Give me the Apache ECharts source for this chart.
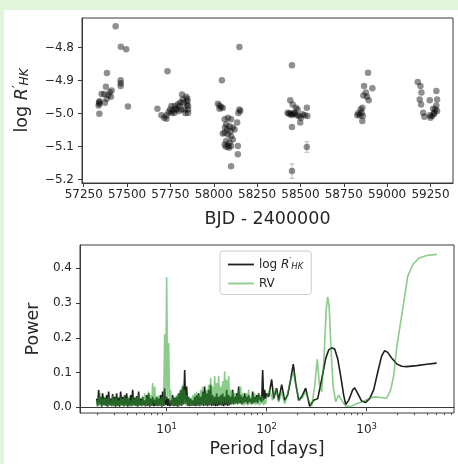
<!DOCTYPE html>
<html><head><meta charset="utf-8">
<script src="https://cdn.jsdelivr.net/npm/echarts@6/dist/echarts.min.js"></script>
<style>
html,body{margin:0;padding:0;background:#e2f5dc;width:458px;height:464px;overflow:hidden}
#c{position:absolute;left:4px;top:10px;width:454px;height:454px;background:#fff}
</style></head><body><div id="c"></div>
<script>
// ---- top panel: activity index time series ----
const bjd = [
57336,57338,57340,57342,57340,57353,57368,57372,57378,57384,57382,57391,57407,57411,57400,57434,57464,57495,57463,57463,57463,57505,
57675,57698,57714,57727,57727,57733,57740,57748,57756,57756,57764,57773,57775,57779,57785,57794,57799,57803,57813,57817,57822,57828,57832,57836,57841,57848,57848,57852,57852,57852,57845,57808,
58024,58033,58043,58052,58033,58047,58063,58082,58100,58072,58091,58110,58063,58082,58100,58052,58072,58091,58063,58082,58100,58110,58120,58096,58077,58065,58100,58139,58139,58135,58148,58153,58142,58148,58088,58070,
58451,58441,58455,58426,58441,58455,58464,58474,58479,58493,58502,58499,58512,58484,58537,58540,58525,58451,58451,58537,58432,58447,58468,
58890,58915,58867,58877,58884,58894,58863,58857,58847,58834,58843,58860,58853,58857,58828,
59177,59192,59198,59188,59196,59208,59215,59246,59284,59288,59284,59278,59269,59259,59272,59288,59250,59246,59265
];
const logRhk = [
-4.975,-4.965,-4.970,-4.962,-5.000,-4.940,-4.940,-4.967,-4.918,-4.877,-4.955,-4.944,-4.949,-4.930,-4.935,-4.735,-4.797,-4.805,-4.899,-4.908,-4.916,-4.978,
-4.985,-5.005,-5.012,-5.015,-5.005,-4.871,-4.995,-4.987,-4.977,-4.998,-4.992,-4.998,-4.977,-4.985,-4.987,-4.971,-4.992,-4.977,-4.987,-4.942,-4.957,-4.967,-4.987,-4.998,-4.949,-4.955,-4.962,-4.977,-4.987,-4.998,-4.972,-4.965,
-4.970,-4.975,-4.980,-4.983,-4.985,-4.899,-5.017,-5.012,-5.017,-5.032,-5.038,-5.042,-5.058,-5.063,-5.068,-5.060,-5.083,-5.088,-5.093,-5.098,-5.098,-5.078,-5.048,-5.053,-5.048,-5.042,-5.159,-5.123,-5.098,-5.027,-4.987,-4.992,-4.998,-4.798,-5.103,-5.100,
-4.853,-4.959,-4.972,-4.997,-4.999,-5.002,-4.997,-4.982,-5.005,-5.007,-5.012,-5.027,-5.002,-4.987,-4.982,-5.007,-5.005,-5.040,-5.174,-5.101,-5.000,-5.004,-5.000,
-4.876,-4.923,-4.916,-4.936,-4.949,-4.959,-4.945,-4.982,-4.987,-4.999,-5.005,-5.007,-4.997,-5.022,-5.005,
-4.904,-4.916,-4.936,-4.957,-4.972,-4.997,-5.009,-4.959,-4.931,-4.957,-4.975,-4.987,-5.002,-5.007,-4.997,-4.992,-5.012,-5.005,-4.985
];
// visible error bars
const errBjd = [58451, 58537];
const errVal = [-5.174, -5.101];
const errSize = [0.022, 0.016];
const bjdTicks = [57250,57500,57750,58000,58250,58500,58750,59000,59250];
const rhkTicks = [-5.2,-5.1,-5.0,-4.9,-4.8];

// ---- bottom panel: periodograms ----
const noisePeriods = [1.995,2.042,2.089,2.138,2.188,2.239,2.291,2.344,2.399,2.455,2.512,2.570,2.630,2.692,2.754,2.818,2.884,2.951,3.020,3.090,3.162,3.236,3.311,3.388,3.467,3.548,3.631,3.715,3.802,3.890,3.981,4.074,4.169,4.266,4.365,4.467,4.571,4.677,4.786,4.898,5.012,5.129,5.248,5.370,5.495,5.623,5.754,5.888,6.026,6.166,6.310,6.457,6.607,6.761,6.918,7.079,7.244,7.413,7.586,7.762,7.943,8.128,8.318,8.511,8.710,8.913,9.120,9.333,9.550,9.772,10.00,10.23,10.47,10.72,10.96,11.22,11.48,11.75,12.02,12.30,12.59,12.88,13.18,13.49,13.80,14.13,14.45,14.79,15.14,15.49,15.85,16.22,16.60,16.98,17.38,17.78,18.20,18.62,19.05,19.50,19.95,20.42,20.89,21.38,21.88,22.39,22.91,23.44,23.99,24.55,25.12,25.70,26.30,26.92,27.54,28.18,28.84,29.51,30.20,30.90,31.62,32.36,33.11,33.88,34.67,35.48,36.31,37.15,38.02,38.90,39.81,40.74,41.69,42.66,43.65,44.67,45.71,46.77,47.86,48.98,50.12,51.29,52.48,53.70,54.95,56.23,57.54,58.88,60.26,61.66,63.10,64.57,66.07,67.61,69.18,70.79,72.44,74.13,75.86,77.62,79.43,81.28,83.18,85.11,87.10,89.13,91.20,93.33,95.50,97.72,100.0];
const rhkNoisePower = [
0.025,0.003,0.05,0.008,0.03,0.002,0.04,0.006,0.028,0.004,
0.035,0.002,0.045,0.006,0.025,0.003,0.038,0.005,0.03,0.002,
0.04,0.004,0.028,0.002,0.045,0.006,0.03,0.003,0.035,0.005,
0.04,0.002,0.025,0.005,0.035,0.003,0.05,0.006,0.028,0.004,
0.032,0.002,0.045,0.005,0.025,0.003,0.03,0.006,0.02,0.003,
0.035,0.004,0.04,0.002,0.025,0.005,0.03,0.003,0.022,0.004,
0.03,0.003,0.025,0.005,0.035,0.002,0.045,0.004,0.055,0.006,
0.03,0.004,0.025,0.003,0.02,0.005,0.035,0.003,0.028,0.004,
0.03,0.002,0.04,0.005,0.05,0.004,0.06,0.008,0.107,0.01,
0.06,0.004,0.03,0.003,0.025,0.005,0.02,0.004,0.03,0.003,
0.035,0.005,0.04,0.003,0.03,0.006,0.045,0.004,0.06,0.005,
0.04,0.003,0.05,0.006,0.065,0.004,0.035,0.005,0.03,0.003,
0.04,0.004,0.03,0.006,0.035,0.005,0.04,0.003,0.03,0.006,
0.05,0.004,0.035,0.006,0.03,0.01,0.05,0.008,0.03,0.012,
0.04,0.01,0.06,0.012,0.035,0.008,0.03,0.012,0.04,0.015,
0.03,0.01,0.035,0.015,0.025,0.01,0.045,0.012,0.03,0.015,
0.035,0.012,0.04,0.02,0.03,0.015,0.107,0.02,0.05,0.025,
0.04];
const rvNoisePower = [
0.02,0.003,0.03,0.005,0.04,0.002,0.025,0.006,0.03,0.004,
0.025,0.003,0.03,0.005,0.02,0.004,0.035,0.002,0.025,0.005,
0.03,0.003,0.02,0.005,0.03,0.004,0.025,0.002,0.035,0.005,
0.025,0.004,0.03,0.002,0.02,0.005,0.03,0.003,0.025,0.004,
0.03,0.003,0.035,0.005,0.02,0.004,0.03,0.006,0.04,0.003,
0.03,0.005,0.045,0.004,0.035,0.006,0.07,0.01,0.06,0.005,
0.03,0.004,0.035,0.005,0.025,0.003,0.03,0.006,0.21,0.02,
0.374,0.03,0.185,0.01,0.05,0.004,0.03,0.005,0.025,0.003,
0.035,0.005,0.04,0.006,0.05,0.004,0.065,0.01,0.05,0.006,
0.035,0.005,0.03,0.003,0.025,0.006,0.035,0.004,0.04,0.005,
0.045,0.006,0.035,0.004,0.05,0.005,0.06,0.008,0.04,0.006,
0.05,0.005,0.065,0.01,0.085,0.008,0.06,0.006,0.09,0.01,
0.07,0.008,0.09,0.01,0.06,0.006,0.075,0.01,0.104,0.012,
0.08,0.01,0.09,0.008,0.05,0.006,0.045,0.01,0.04,0.008,
0.035,0.006,0.05,0.01,0.06,0.008,0.04,0.005,0.03,0.008,
0.04,0.005,0.05,0.008,0.03,0.006,0.035,0.01,0.04,0.006,
0.03,0.008,0.04,0.005,0.035,0.01,0.03,0.006,0.02,0.01,
0.03];
const rhkTailPeriods = [104.7,112.2,117.5,125.9,131.8,141.3,151.4,162.2,173.8,184.5,195,209,224,245.5,269,295,324,355,389,417,447,479,513,550,589,617,661,724,759,813,891,977,1072,1175,1288,1413,1514,1622,1778,1995,2239,2512,3162,3981,5012];
const rhkTailPower = [0.03,0.08,0.025,0.055,0.02,0.065,0.02,0.035,0.08,0.124,0.07,0.02,0.03,0.055,0.003,0.02,0.025,0.08,0.14,0.165,0.171,0.168,0.14,0.09,0.035,0.008,0.02,0.05,0.056,0.04,0.018,0.014,0.025,0.05,0.1,0.148,0.163,0.158,0.142,0.125,0.118,0.117,0.12,0.124,0.127];
const rvTailPeriods = [107.2,114.8,123.0,131.8,141.3,151.4,162.2,173.8,186.2,199.5,213.8,229.1,245.5,263.0,281.8,302.0,320.6,338.8,354.8,375.8,393.6,407.4,421.7,441.6,462.4,489.8,524.8,562.3,616.6,691.8,794.3,912.0,1047,1202,1380,1585,1738,1862,1995,2138,2344,2570,2884,3311,3981,5012];
const rvTailPower = [0.05,0.02,0.055,0.015,0.045,0.01,0.04,0.08,0.1,0.05,0.02,0.03,0.045,0.02,0.003,0.06,0.138,0.06,0.045,0.15,0.28,0.318,0.29,0.16,0.06,0.016,0.035,0.02,0.004,0.002,0.01,0.016,0.025,0.03,0.028,0.026,0.05,0.09,0.17,0.227,0.3,0.376,0.41,0.429,0.437,0.44];
const powerTicks = [0,0.1,0.2,0.3,0.4];
const periodTicks = [10,100,1000];
const periodMinorTicks = [2,3,4,5,6,7,8,9,20,30,40,50,60,70,80,90,200,300,400,500,600,700,800,900,2000,3000,4000,5000,6000,7000];

const FONT = 'DejaVu Sans';
const INK = '#262626';
const SPINE = '#3a3a3a';
const fmtMinus = v => (v < -1e-9 ? '\u2212' : '') + Math.abs(v).toFixed(1);

const rhkSeries = noisePeriods.map((p,i)=>[p, rhkNoisePower[i]]).concat(rhkTailPeriods.map((p,i)=>[p, rhkTailPower[i]]));
const rvSeries = noisePeriods.map((p,i)=>[p, rvNoisePower[i]]).concat(rvTailPeriods.map((p,i)=>[p, rvTailPower[i]]));

const chart = echarts.init(document.getElementById('c'), null, {renderer:'canvas'});
const tickStyle = {show:true, inside:false, length:4, lineStyle:{color:SPINE, width:1}};
const lblStyle = {color:INK, fontFamily:FONT, fontSize:12};

chart.setOption({
  animation:false,
  textStyle:{fontFamily:FONT},
  grid:[
    {left:76, top:8, width:373, height:165, show:true, borderColor:SPINE, borderWidth:1, backgroundColor:'#fff'},
    {left:76, top:235, width:374, height:168, show:true, borderColor:SPINE, borderWidth:1, backgroundColor:'#fff'}
  ],
  xAxis:[
    {type:'value', gridIndex:0, min:57240, max:59380,
     name:'BJD - 2400000', nameLocation:'middle', nameGap:27,
     nameTextStyle:{color:INK, fontFamily:FONT, fontSize:17.5},
     axisLine:{show:true, lineStyle:{color:SPINE}}, splitLine:{show:false},
     axisTick:Object.assign({customValues:bjdTicks}, tickStyle),
     axisLabel:Object.assign({customValues:bjdTicks, margin:6, formatter:v=>String(v)}, lblStyle)},
    {type:'log', logBase:10, gridIndex:1, min:1.36, max:7470,
     name:'Period [days]', nameLocation:'middle', nameGap:27,
     nameTextStyle:{color:INK, fontFamily:FONT, fontSize:17.5},
     axisLine:{show:true, lineStyle:{color:SPINE}}, splitLine:{show:false}, minorTick:{show:false},
     axisTick:Object.assign({customValues:periodTicks}, tickStyle),
     axisLabel:Object.assign({customValues:periodTicks, margin:9,
        formatter:v=>'10{s|'+Math.round(Math.log10(v))+'}',
        rich:{s:{fontSize:8.5, color:INK, fontFamily:FONT, padding:[0,0,7,0]}}}, lblStyle)},
    {type:'log', logBase:10, gridIndex:1, min:1.36, max:7470, position:'bottom',
     axisLine:{show:false}, splitLine:{show:false}, axisLabel:{show:false},
     axisTick:{show:true, customValues:periodMinorTicks, length:2.2, lineStyle:{color:SPINE, width:0.8}}}
  ],
  yAxis:[
    {type:'value', gridIndex:0, min:-5.21, max:-4.71,
     name:'log {i|R}{p|\u2032}{b|HK}', nameLocation:'middle', nameGap:50, nameRotate:90,
     nameTextStyle:{color:INK, fontFamily:FONT, fontSize:17.5,
       rich:{i:{fontStyle:'italic', fontSize:17.5, color:INK, fontFamily:FONT},
             p:{fontSize:12, color:INK, fontFamily:FONT, padding:[0,0,8,0]},
             b:{fontStyle:'italic', fontSize:12, color:INK, fontFamily:FONT, padding:[6,0,0,0]}}},
     axisLine:{show:true, lineStyle:{color:SPINE}}, splitLine:{show:false},
     axisTick:Object.assign({customValues:rhkTicks}, tickStyle),
     axisLabel:Object.assign({customValues:rhkTicks, margin:8, formatter:fmtMinus}, lblStyle)},
    {type:'value', gridIndex:1, min:-0.0164, max:0.467,
     name:'Power', nameLocation:'middle', nameGap:34, nameRotate:90,
     nameTextStyle:{color:INK, fontFamily:FONT, fontSize:17.5},
     axisLine:{show:true, lineStyle:{color:SPINE}}, splitLine:{show:false},
     axisTick:Object.assign({customValues:powerTicks}, tickStyle),
     axisLabel:Object.assign({customValues:powerTicks, margin:8, formatter:fmtMinus}, lblStyle)}
  ],
  legend:{
    left:216, top:241, orient:'vertical', itemWidth:26, itemHeight:14, itemGap:6,
    padding:[6,8,5,7], borderColor:'#cccccc', borderWidth:1, borderRadius:3,
    backgroundColor:'rgba(255,255,255,0.85)',
    itemStyle:{opacity:0},
    lineStyle:{width:1.8},
    data:['logR','RV'],
    formatter:n => n==='logR' ? 'log {i|R}{p|\u2032}{b|HK}' : 'RV',
    textStyle:{color:INK, fontFamily:FONT, fontSize:12,
      rich:{i:{fontStyle:'italic', fontSize:12, color:INK, fontFamily:FONT},
            p:{fontSize:8.5, color:INK, fontFamily:FONT, padding:[0,0,6,0]},
            b:{fontStyle:'italic', fontSize:8.5, color:INK, fontFamily:FONT, padding:[5,0,0,0]}}}
  },
  series:[
    {type:'scatter', xAxisIndex:0, yAxisIndex:0, symbolSize:6.5,
     itemStyle:{color:'rgba(0,0,0,0.55)'},
     data:bjd.map((x,i)=>[x, logRhk[i]])},
    {type:'custom', xAxisIndex:0, yAxisIndex:0, z:1,
     data:errBjd.map((x,i)=>[x, errVal[i], errSize[i]]),
     renderItem:(params, api)=>{
       const x = api.value(0), y = api.value(1), e = api.value(2);
       const lo = api.coord([x, y-e]), hi = api.coord([x, y+e]);
       const st = {stroke:'rgba(0,0,0,0.25)', lineWidth:1};
       return {type:'group', children:[
         {type:'line', shape:{x1:lo[0],y1:lo[1],x2:hi[0],y2:hi[1]}, style:st},
         {type:'line', shape:{x1:lo[0]-2.5,y1:lo[1],x2:lo[0]+2.5,y2:lo[1]}, style:st},
         {type:'line', shape:{x1:hi[0]-2.5,y1:hi[1],x2:hi[0]+2.5,y2:hi[1]}, style:st}
       ]};
     }},
    {name:'logR', type:'line', xAxisIndex:1, yAxisIndex:1, showSymbol:false, symbol:'none',
     z:2, lineStyle:{color:'rgba(0,0,0,0.88)', width:1.6}, itemStyle:{color:'rgba(0,0,0,0.88)'},
     data:rhkSeries},
    {name:'RV', type:'line', xAxisIndex:1, yAxisIndex:1, showSymbol:false, symbol:'none',
     z:3, lineStyle:{color:'rgba(44,160,44,0.55)', width:1.6}, itemStyle:{color:'rgba(44,160,44,0.55)'},
     data:rvSeries}
  ]
});
</script></body></html>
